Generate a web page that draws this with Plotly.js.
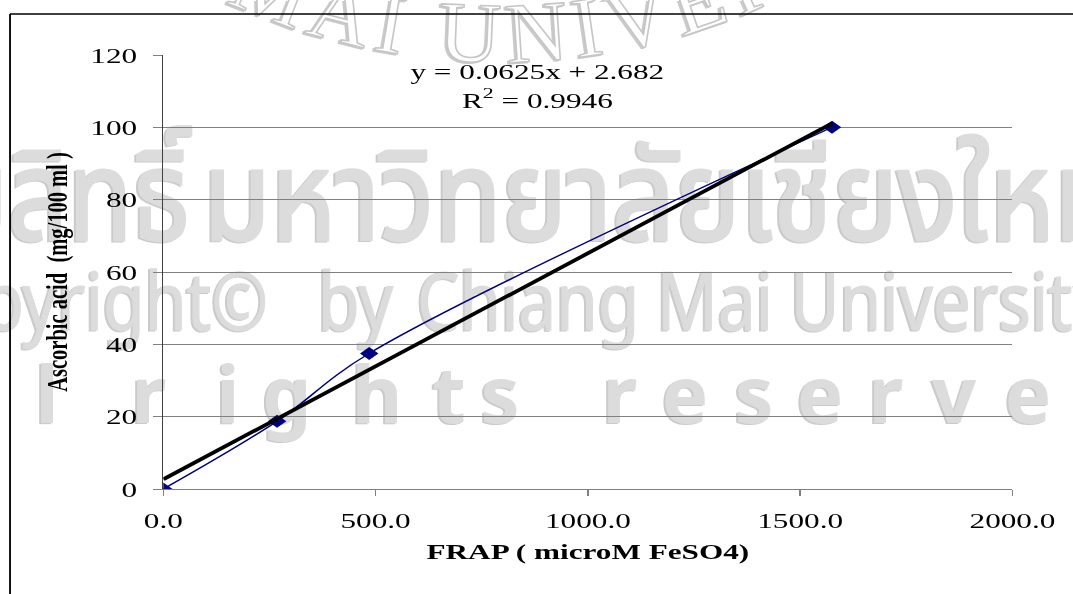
<!DOCTYPE html>
<html><head><meta charset="utf-8">
<script src="https://cdn.plot.ly/plotly-3.0.1.min.js"></script>
<style>
html,body{margin:0;padding:0;background:#fff;overflow:hidden;width:1073px;height:594px;}
#wm{position:absolute;left:0;top:0;width:1073px;height:594px;filter:drop-shadow(-1.5px 1.5px 0 #cacaca);}
#wrap{position:absolute;left:0;top:0;width:756px;height:594px;transform:scaleX(1.42);transform-origin:0 0;}
#chart{width:756px;height:594px;}
</style></head><body>
<svg id="wm" width="1073" height="594" xmlns="http://www.w3.org/2000/svg">
  <defs>
    <path id="sealArc" d="M -150 -588 A 650 650 0 0 0 1150 -588"/>
  </defs>
  <g fill="#ffffff" stroke="#c6c6c6" stroke-width="1.6" font-family="Liberation Serif, serif" font-size="86" letter-spacing="8">
    <text><textPath href="#sealArc" startOffset="822" text-anchor="end">CHIANG M</textPath></text>
    <text><textPath href="#sealArc" startOffset="822">AI UNIVERSITY</textPath></text>
  </g>
  <g fill="#dcdcdc" stroke="#dcdcdc">
    <text x="190" y="240" text-anchor="end" stroke-width="3" font-family="Noto Sans Thai, Loma, Garuda, Norasi, Noto Sans, sans-serif" font-size="125" textLength="300" lengthAdjust="spacingAndGlyphs">ลิขสิทธิ์</text>
    <text x="203" y="240" stroke-width="3" font-family="Noto Sans Thai, Loma, Garuda, Norasi, Noto Sans, sans-serif" font-size="125" textLength="919" lengthAdjust="spacingAndGlyphs">มหาวิทยาลัยเชียงใหม่</text>
    <text x="268" y="330" text-anchor="end" stroke-width="1.2" font-family="Noto Sans" font-size="80" textLength="370" lengthAdjust="spacingAndGlyphs">Copyright©</text>
    <text x="318" y="330" stroke-width="1.2" font-family="Noto Sans" font-size="80" textLength="75" lengthAdjust="spacingAndGlyphs">by</text>
    <text x="417" y="330" stroke-width="1.2" font-family="Noto Sans" font-size="80" textLength="690" lengthAdjust="spacingAndGlyphs">Chiang Mai University</text>
    <text y="423" text-anchor="middle" stroke-width="0" font-family="Noto Sans" font-weight="bold" font-size="78" x="-110 -32 47 100 149 228 287 377 449 500 560 620 685 754 820 886 954 1028 1100">All rights reserved</text>
  </g>
</svg>
<div id="wrap"><div id="chart"></div></div>
<script>
// Data
const frapX = [0, 268, 485, 1575];          // FRAP (microM FeSO4)
const ascorbicY = [0, 18.75, 37.5, 100];    // Ascorbic acid (mg/100 ml)
const trendSlope = 0.0625;
const trendIntercept = 2.682;
const rSquared = 0.9946;
const xTickVals = [0, 500, 1000, 1500, 2000];
const xTickText = ['0.0', '500.0', '1000.0', '1500.0', '2000.0'];
const yTickVals = [0, 20, 40, 60, 80, 100, 120];

const serif = 'Liberation Serif, Times New Roman, serif';
const trendX = [Math.min(...frapX), Math.max(...frapX)];
const trendY = trendX.map(v => trendSlope * v + trendIntercept);

const traces = [
  {
    x: frapX, y: ascorbicY, type: 'scatter', mode: 'lines+markers',
    line: {color: '#000080', width: 1.3, shape: 'spline', smoothing: 1},
    marker: {symbol: 'diamond', size: 10, color: '#000080'},
    hoverinfo: 'skip', showlegend: false
  },
  {
    x: trendX, y: trendY, type: 'scatter', mode: 'lines',
    line: {color: '#000000', width: 3.4},
    hoverinfo: 'skip', showlegend: false
  }
];

const layout = {
  width: 756, height: 594,
  margin: {l: 115, r: 43, t: 55, b: 105},
  paper_bgcolor: 'rgba(0,0,0,0)', plot_bgcolor: 'rgba(0,0,0,0)',
  showlegend: false,
  xaxis: {
    range: [0, 2000], tickvals: xTickVals, ticktext: xTickText,
    ticks: 'outside', ticklen: 6, tickwidth: 1, tickcolor: '#808080',
    showline: true, linecolor: '#808080', linewidth: 1,
    showgrid: false, zeroline: false, automargin: false, fixedrange: true,
    tickfont: {family: serif, size: 22, color: '#000'},
    ticklabelstandoff: 6,
    title: {text: '<b>FRAP ( microM FeSO4)</b>', font: {family: serif, size: 22, color: '#000'}, standoff: 11}
  },
  yaxis: {
    range: [0, 120], tickvals: yTickVals,
    ticks: 'outside', ticklen: 6, tickwidth: 1, tickcolor: '#808080',
    showline: true, linecolor: '#404040', linewidth: 1,
    showgrid: true, gridcolor: '#808080', gridwidth: 1,
    zeroline: false, automargin: false, fixedrange: true,
    tickfont: {family: serif, size: 22, color: '#000'},
    ticklabelstandoff: 7,
    title: {text: '<b>Ascorbic acid  (mg/100 ml )</b>', font: {family: serif, size: 20.5, color: '#000'}, standoff: 10}
  },
  annotations: [{
    x: 881, y: 111.3, xref: 'x', yref: 'y', showarrow: false, align: 'center',
    text: 'y = ' + trendSlope + 'x + ' + trendIntercept + '<br>R<sup>2</sup> = ' + rSquared,
    font: {family: serif, size: 22, color: '#000'}
  }],
  shapes: [
    {type: 'line', xref: 'paper', yref: 'paper', x0: -0.1805, x1: -0.1805, y0: -0.3, y1: 1.0945, line: {color: '#000', width: 1.3}},
    {type: 'line', xref: 'paper', yref: 'paper', x0: -0.1805, x1: 1.2, y0: 1.0945, y1: 1.0945, line: {color: '#000', width: 1.3}}
  ]
};

Plotly.newPlot('chart', traces, layout, {displayModeBar: false, staticPlot: true});
</script>
</body></html>
